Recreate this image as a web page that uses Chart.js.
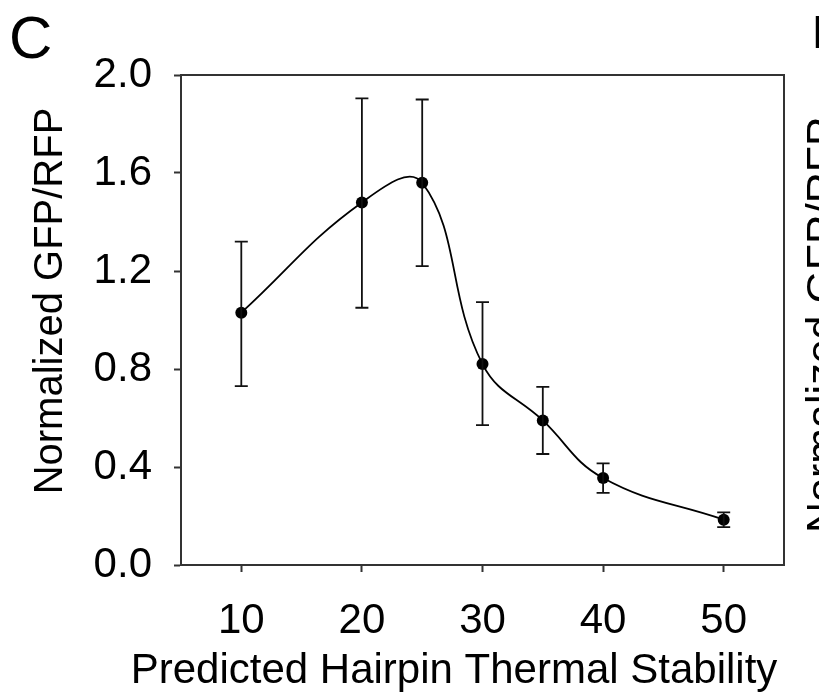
<!DOCTYPE html>
<html>
<head>
<meta charset="utf-8">
<script src="https://cdn.jsdelivr.net/npm/chart.js@4.4.1/dist/chart.umd.min.js"></script>
<style>
    html, body { margin: 0; padding: 0; background: #fff; }
    #wrap { width: 819px; height: 696px; position: relative; }
</style>
</head>
<body>
<div id="wrap"><canvas id="hairpinChart" width="819" height="696"></canvas></div>
<script>
// Data
var stability = [10, 20, 25, 30, 35, 40, 50];
var gfpRfp = [1.03, 1.48, 1.56, 0.82, 0.59, 0.355, 0.185];
var errHigh = [1.32, 1.905, 1.90, 1.073, 0.727, 0.415, 0.215];
var errLow = [0.73, 1.05, 1.22, 0.571, 0.453, 0.294, 0.155];
var xTickValues = [10, 20, 30, 40, 50];
var yTickValues = [0.0, 0.4, 0.8, 1.2, 1.6, 2.0];

var FONT = 'Liberation Sans, Arial, Helvetica, sans-serif';

// error bars, drawn through the scales
var errorBarPlugin = {
    id: 'errorBars',
    afterDatasetsDraw: function(chart) {
        var ctx = chart.ctx;
        var xs = chart.scales.x, ys = chart.scales.y;
        ctx.save();
        ctx.strokeStyle = '#111';
        ctx.lineWidth = 1.8;
        for (var i = 0; i < stability.length; i++) {
            var px = xs.getPixelForValue(stability[i]);
            var top = ys.getPixelForValue(errHigh[i]);
            var bot = ys.getPixelForValue(errLow[i]);
            ctx.beginPath();
            ctx.moveTo(px, top); ctx.lineTo(px, bot);
            ctx.moveTo(px - 6.5, top); ctx.lineTo(px + 6.5, top);
            ctx.moveTo(px - 6.5, bot); ctx.lineTo(px + 6.5, bot);
            ctx.stroke();
        }
        ctx.restore();
    }
};

// frame box + titles + panel letters
var decorPlugin = {
    id: 'decor',
    afterDraw: function(chart) {
        var ctx = chart.ctx;
        var a = chart.chartArea;
        ctx.save();
        ctx.strokeStyle = '#333';
        ctx.lineWidth = 2;
        ctx.strokeRect(a.left, a.top, a.right - a.left, a.bottom - a.top);

        ctx.fillStyle = '#000';
        // panel letter
        ctx.font = '60px ' + FONT;
        ctx.textAlign = 'left';
        ctx.textBaseline = 'alphabetic';
        ctx.fillText('C', 9, 58);
        // next panel, cut at the edge
        ctx.font = '46px ' + FONT;
        ctx.fillText('D', 812, 48);

        // x title
        ctx.font = '42px ' + FONT;
        ctx.textAlign = 'center';
        ctx.fillText('Predicted Hairpin Thermal Stability', 454, 683);

        // y title
        ctx.save();
        ctx.font = '40px ' + FONT;
        ctx.translate(62, 301);
        ctx.rotate(-Math.PI / 2);
        ctx.fillText('Normalized GFP/RFP', 0, 0);
        ctx.restore();

        // y title of panel D (mostly off the page)
        ctx.save();
        ctx.font = '43px ' + FONT;
        ctx.translate(836, 533);
        ctx.rotate(-Math.PI / 2);
        ctx.textAlign = 'left';
        ctx.fillText('Normalized GFP/RFP', 0, 0);
        ctx.restore();

        ctx.restore();
    }
};

var ctx = document.getElementById('hairpinChart').getContext('2d');

var hairpinChart = new Chart(ctx, {
    type: 'line',
    data: {
        datasets: [{
            label: 'Normalized GFP/RFP',
            data: stability.map(function(x, i) { return { x: x, y: gfpRfp[i] }; }),
            borderColor: '#000',
            borderWidth: 1.8,
            backgroundColor: '#000',
            pointRadius: 6,
            pointBackgroundColor: '#000',
            pointBorderWidth: 0,
            tension: 0.42,
            fill: false
        }]
    },
    options: {
        responsive: false,
        animation: false,
        events: [],
        layout: {
            padding: { top: 75, right: 35, left: 0, bottom: 0 }
        },
        scales: {
            x: {
                type: 'linear',
                min: 5,
                max: 55,
                afterBuildTicks: function(scale) {
                    scale.ticks = xTickValues.map(function(v) { return { value: v }; });
                },
                afterFit: function(scale) { scale.height = 131; },
                grid: {
                    drawOnChartArea: false,
                    drawTicks: true,
                    tickLength: 7,
                    tickWidth: 2,
                    color: '#333'
                },
                border: { display: true, color: '#333', width: 2 },
                ticks: {
                    color: '#000',
                    padding: 24,
                    font: { family: FONT, size: 42 },
                    maxRotation: 0
                }
            },
            y: {
                type: 'linear',
                min: 0,
                max: 2,
                afterBuildTicks: function(scale) {
                    scale.ticks = yTickValues.map(function(v) { return { value: v }; });
                },
                afterFit: function(scale) { scale.width = 181; },
                grid: {
                    drawOnChartArea: false,
                    drawTicks: true,
                    tickLength: 7,
                    tickWidth: 2,
                    color: '#333'
                },
                border: { display: true, color: '#333', width: 2 },
                ticks: {
                    color: '#000',
                    padding: 22,
                    font: { family: FONT, size: 42 },
                    callback: function(v) { return Number(v).toFixed(1); }
                }
            }
        },
        plugins: {
            legend: { display: false },
            tooltip: { enabled: false }
        }
    },
    plugins: [errorBarPlugin, decorPlugin]
});
</script>
</body>
</html>
